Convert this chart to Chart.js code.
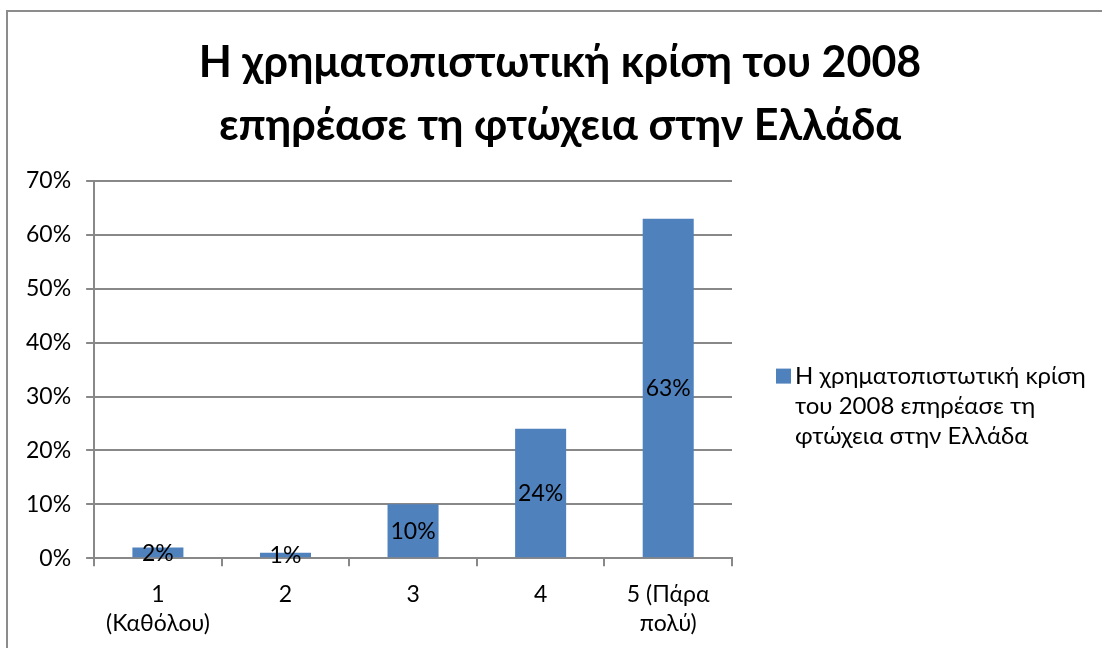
<!DOCTYPE html>
<html>
<head>
<meta charset="utf-8">
<script src="https://cdn.jsdelivr.net/npm/chart.js@4"></script>
<style>
  html, body { margin: 0; padding: 0; background: #fff; overflow: hidden; }
  #frame {
    position: absolute; left: 6px; top: 10px;
    width: 1120px; height: 660px;
    border: 2px solid #8c8c8c; box-sizing: border-box;
  }
  #wrap { position: absolute; left: 8px; top: 0; width: 1104px; height: 652px; }
</style>
</head>
<body>
<div id="frame"></div>
<div id="wrap"><canvas id="povertyChart" width="1104" height="652"></canvas></div>
<script>
const FONT = "Lato, 'Open Sans', 'Noto Sans', sans-serif";

const titleLines = ["Η χρηματοπιστωτική κρίση του 2008", "επηρέασε τη φτώχεια στην Ελλάδα"];
const categories = [["1", "(Καθόλου)"], "2", "3", "4", ["5 (Πάρα", "πολύ)"]];
const seriesName = "Η χρηματοπιστωτική κρίση του 2008 επηρέασε τη φτώχεια στην Ελλάδα";
const legendLines = ["Η χρηματοπιστωτική κρίση", "του 2008 επηρέασε τη", "φτώχεια στην Ελλάδα"];
const percents = [2, 1, 10, 24, 63];
const yTicks = [0, 10, 20, 30, 40, 50, 60, 70];

const barColor = "#4f81bd";
const gridColor = "#888888";

// two-line bold title, centred over the whole canvas
const bigTitle = {
  id: "bigTitle",
  afterDraw(chart) {
    const ctx = chart.ctx;
    ctx.save();
    ctx.font = "bold 43px " + FONT;
    ctx.fillStyle = "#000";
    ctx.textAlign = "center";
    ctx.textBaseline = "middle";
    titleLines.forEach((line, i) => ctx.fillText(line, chart.width / 2, 63 + i * 63));
    ctx.restore();
  }
};

// value labels drawn in the middle of each bar
const barLabels = {
  id: "barLabels",
  afterDatasetsDraw(chart) {
    const ctx = chart.ctx;
    ctx.save();
    ctx.font = "23px " + FONT;
    ctx.fillStyle = "#000";
    ctx.textAlign = "center";
    ctx.textBaseline = "middle";
    chart.getDatasetMeta(0).data.forEach((bar, i) => {
      const v = chart.data.datasets[0].data[i];
      ctx.fillText(v + "%", bar.x, (bar.y + bar.base) / 2 + 1);
    });
    ctx.restore();
  }
};

// legend on the right, with the series name wrapped over three lines
const sideLegend = {
  id: "sideLegend",
  afterDraw(chart) {
    const ctx = chart.ctx;
    const area = chart.chartArea;
    const x = area.right + 44;
    const y0 = (area.top + area.bottom) / 2 + 6;
    ctx.save();
    ctx.fillStyle = chart.data.datasets[0].backgroundColor;
    ctx.fillRect(x, y0 - 7, 15, 15);
    ctx.font = "24px " + FONT;
    ctx.fillStyle = "#000";
    ctx.textAlign = "left";
    ctx.textBaseline = "middle";
    legendLines.forEach((line, i) => ctx.fillText(line, x + 19, y0 + 1 + i * 30));
    ctx.restore();
  }
};

new Chart(document.getElementById("povertyChart"), {
  type: "bar",
  data: {
    labels: categories,
    datasets: [{
      label: seriesName,
      data: percents,
      backgroundColor: barColor,
      barPercentage: 0.4,
      categoryPercentage: 1.0
    }]
  },
  options: {
    responsive: false,
    animation: false,
    layout: { padding: { left: 3, right: 380, top: 181, bottom: 0 } },
    plugins: {
      legend: { display: false },
      tooltip: { enabled: false },
      title: { display: false }
    },
    scales: {
      x: {
        grid: {
          offset: true,
          drawOnChartArea: false,
          color: gridColor,
          lineWidth: 2,
          tickLength: 8
        },
        border: { color: gridColor, width: 2 },
        ticks: {
          color: "#000",
          padding: 13,
          maxRotation: 0,
          font: { family: FONT, size: 23, lineHeight: 1.3 }
        }
      },
      y: {
        min: 0,
        max: 70,
        afterBuildTicks(scale) { scale.ticks = yTicks.map(v => ({ value: v })); },
        grid: { color: gridColor, lineWidth: 2, tickLength: 8 },
        border: { color: gridColor, width: 2 },
        ticks: {
          color: "#000",
          padding: 15,
          font: { family: FONT, size: 23 },
          callback: v => v + "%"
        }
      }
    }
  },
  plugins: [barLabels, sideLegend, bigTitle]
});
</script>
</body>
</html>
